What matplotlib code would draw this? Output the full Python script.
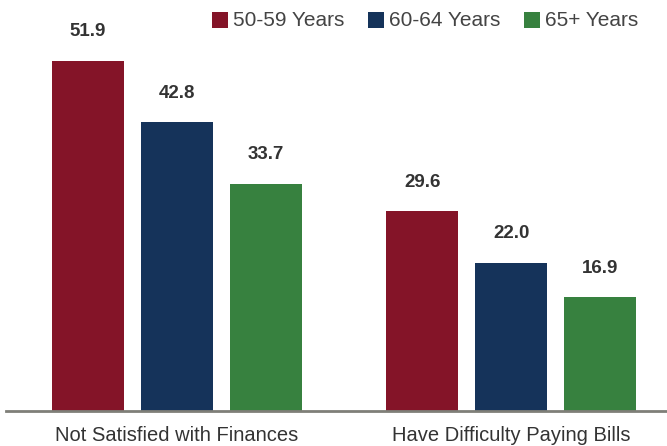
import numpy as np
import matplotlib.pyplot as plt
from matplotlib.patches import Rectangle

# survey results by age group (percent)
categories = ["Not Satisfied with Finances", "Have Difficulty Paying Bills"]
age_groups = ["50-59 Years", "60-64 Years", "65+ Years"]
vals_50_59 = [51.9, 29.6]
vals_60_64 = [42.8, 22.0]
vals_65_up = [33.7, 16.9]

colors = ["#841428", "#15335A", "#37813F"]
series = [vals_50_59, vals_60_64, vals_65_up]

plt.rcParams['font.family'] = ['Liberation Sans', 'DejaVu Sans']

W, H = 667, 446
fig = plt.figure(figsize=(W / 100, H / 100), dpi=100)
ax = fig.add_axes([6 / W, 35 / H, 661 / W, 411 / H])

group_x = np.array([0.0, 3.76])
width = 0.81

for i, (vals, col) in enumerate(zip(series, colors)):
    xs = group_x + (i - 1)
    ax.bar(xs, vals, width=width, color=col, label=age_groups[i])
    for x, v in zip(xs, vals):
        ax.text(x, v + 3.0, f"{v:.1f}", ha="center", va="bottom",
                fontsize=13.5, fontweight="bold", color="#333333")

ax.set_xlim(-1.92, 5.51)
ax.set_ylim(0, 60.9)

for s in ["top", "right", "left"]:
    ax.spines[s].set_visible(False)
ax.spines["bottom"].set_color("#7f7f78")
ax.spines["bottom"].set_linewidth(2)
ax.set_yticks([])
ax.set_xticks(group_x)
ax.set_xticklabels(categories, fontsize=14.5, color="#333333")
ax.tick_params(axis="x", length=0, pad=11)

# legend drawn in figure pixels along the top edge
legend_x = [212, 368, 524]
for lx, c, lab in zip(legend_x, colors, age_groups):
    fig.add_artist(Rectangle((lx / W, 1 - 28 / H), 16 / W, 16 / H,
                             facecolor=c, edgecolor="none",
                             transform=fig.transFigure))
    fig.text((lx + 21) / W, 1 - 20 / H, lab, ha="left", va="center",
             fontsize=15, color="#444444")

fig.savefig("out.png", dpi=100)
